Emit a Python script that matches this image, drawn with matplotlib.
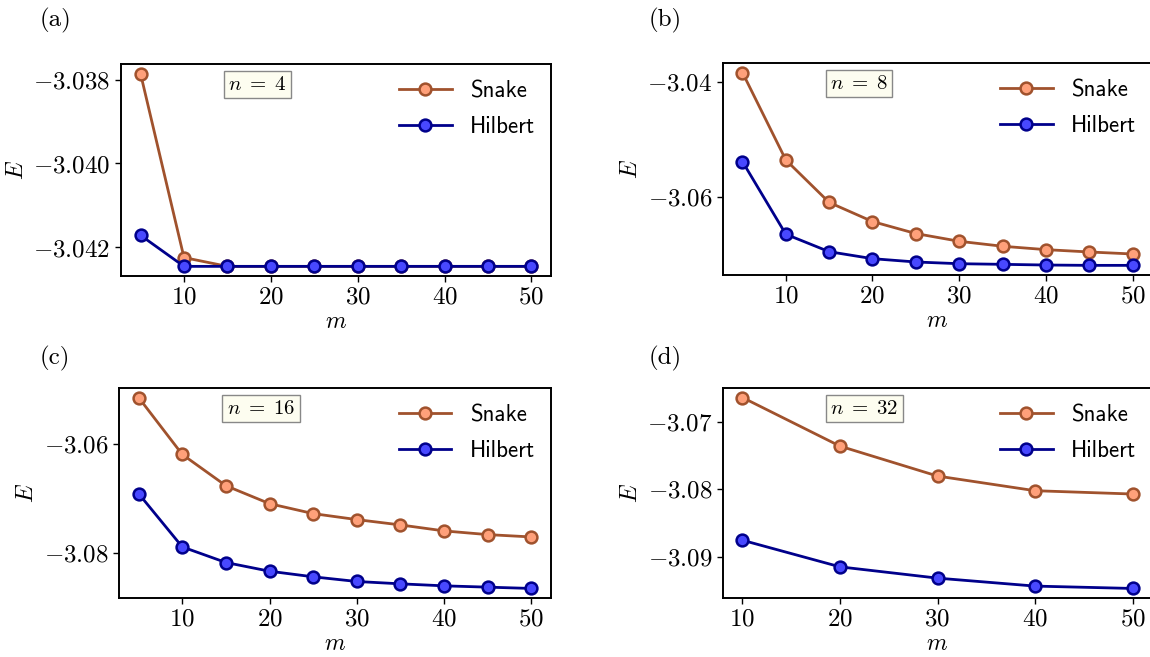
import matplotlib
matplotlib.use("Agg")
import matplotlib.pyplot as plt
from matplotlib.ticker import MultipleLocator, FormatStrFormatter

plt.rcParams['mathtext.fontset'] = 'cm'
plt.rcParams['font.family'] = 'cmr10'
plt.rcParams['axes.formatter.use_mathtext'] = True

# bond dimension m and ground state energies per system size n
m_fine = [5, 10, 15, 20, 25, 30, 35, 40, 45, 50]
m_coarse = [10, 20, 30, 40, 50]

snake_n4 = [-3.03786, -3.04224, -3.04245, -3.04245, -3.04245,
            -3.04245, -3.04245, -3.04245, -3.04245, -3.04245]
hilbert_n4 = [-3.04171, -3.04245, -3.04245, -3.04245, -3.04245,
              -3.04245, -3.04245, -3.04245, -3.04245, -3.04245]

snake_n8 = [-3.0383, -3.05357, -3.06099, -3.06433, -3.06643,
            -3.06778, -3.06865, -3.06924, -3.06965, -3.0700]
hilbert_n8 = [-3.05386, -3.06655, -3.0696, -3.07082, -3.0714,
              -3.0717, -3.07181, -3.07193, -3.07199, -3.07199]

snake_n16 = [-3.0515, -3.06196, -3.06771, -3.07101, -3.07284,
             -3.07394, -3.07492, -3.07602, -3.0767, -3.07713]
hilbert_n16 = [-3.06917, -3.07896, -3.08183, -3.08343, -3.08446,
               -3.08532, -3.08575, -3.08612, -3.08636, -3.0866]

snake_n32 = [-3.06645, -3.07365, -3.07808, -3.08025, -3.08074]
hilbert_n32 = [-3.08759, -3.09153, -3.0932, -3.09438, -3.09473]

W, H = 1150, 657
fig = plt.figure(figsize=(W / 100, H / 100), dpi=100)


def box(l, t, r, b):
    return [l / W, (H - b) / H, (r - l) / W, (b - t) / H]


panels = [
    ("(a)", 4, m_fine, snake_n4, hilbert_n4, box(121, 64, 551, 276), 0.002, '%.3f', (40, 20)),
    ("(b)", 8, m_fine, snake_n8, hilbert_n8, box(723, 63, 1152, 275), 0.02, '%.2f', (649, 20)),
    ("(c)", 16, m_fine, snake_n16, hilbert_n16, box(119, 388, 551, 598), 0.02, '%.2f', (40, 358)),
    ("(d)", 32, m_coarse, snake_n32, hilbert_n32, box(723, 388, 1152, 598), 0.01, '%.2f', (649, 358)),
]

for tag, n, m, snake, hilbert, rect, step, fmt, tagpos in panels:
    ax = fig.add_axes(rect)
    ax.plot(m, snake, '-o', color='sienna', lw=2, ms=8.5, mfc='lightsalmon',
            mec='sienna', mew=1.8, label='Snake')
    ax.plot(m, hilbert, '-o', color='darkblue', lw=2, ms=8.5, mfc='#4848ff',
            mec='darkblue', mew=1.8, label='Hilbert')
    ax.yaxis.set_major_locator(MultipleLocator(step))
    ax.yaxis.set_major_formatter(FormatStrFormatter('$' + fmt + '$'))
    ax.xaxis.set_major_locator(MultipleLocator(10))
    ax.xaxis.set_major_formatter(FormatStrFormatter('$%d$'))
    ax.tick_params(labelsize=18, width=1, length=4)
    for s in ax.spines.values():
        s.set_linewidth(1.4)
    ax.set_xlabel('$m$', fontsize=17, labelpad=2)
    ax.set_ylabel('$E$', fontsize=17, labelpad=4)
    ax.legend(loc='upper right', frameon=False, handlelength=2.3,
              labelspacing=0.6, borderaxespad=0.3,
              prop={'family': 'cmss10', 'size': 16.5})
    ax.text(0.25, 0.945, r'$n\;=\;%d$' % n, transform=ax.transAxes, fontsize=15,
            ha='left', va='top',
            bbox=dict(boxstyle='square,pad=0.22', fc='#fdfdf0', ec='#888888', lw=1))
    fig.text(tagpos[0] / W, 1 - tagpos[1] / H, tag, fontsize=18,
             ha='left', va='center')

fig.savefig('out.png', dpi=100)
